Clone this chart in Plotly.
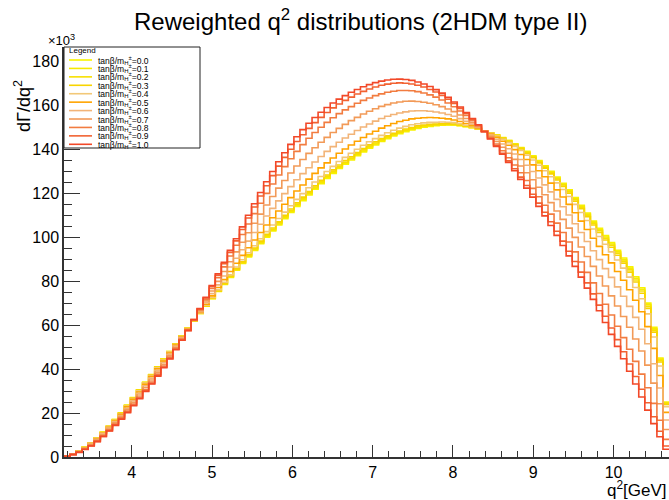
import plotly.graph_objects as go

# ---------------- data ----------------
Q2_MIN, Q2_MAX, NBINS = 3.157, 10.69, 100

tanb_labels = ["0.0", "0.1", "0.2", "0.3", "0.4", "0.5", "0.6", "0.7", "0.8", "0.9", "1.0"]

tb_00 = [0.4,1.5,2.8,4.4,6.4,8.7,11.2,14,17,20,
         23.5,27,30.5,34,37.5,41,44.5,48,51.5,55,
         58.5,62,65.3,68.6,72,75.3,78.5,81.7,85,88,
         91,94,97,100,102.8,105.6,108.4,111.2,114,116.6,
         119.2,121.8,124.3,126.7,129,131.2,133.2,135.1,137,138.8,
         140.5,142,143.5,144.8,146,147.1,148,148.8,149.5,150,
         150.4,150.7,150.9,151,151,150.7,150.3,149.8,149.2,148.4,
         147.5,146.5,145.3,144,142.5,140.8,139,137,134.8,132.5,
         130,127.3,124.5,121.5,118,114.5,111,107.3,104,100.7,
         97.5,94,90.5,86.5,82,77,70,59,45,25]
tb_01 = [0.4,1.5,2.8,4.4,6.4,8.7,11.2,14.0,17.0,20.0,
         23.5,26.9,30.4,33.9,37.4,40.9,44.4,48.0,51.5,55.0,
         58.5,62.0,65.3,68.7,72.1,75.4,78.7,81.9,85.2,88.3,
         91.3,94.3,97.3,100.4,103.2,106.0,108.9,111.7,114.5,117.1,
         119.7,122.3,124.8,127.2,129.5,131.7,133.7,135.6,137.5,139.2,
         140.9,142.4,143.9,145.2,146.4,147.5,148.4,149.1,149.8,150.3,
         150.7,151.0,151.1,151.2,151.2,150.8,150.4,149.9,149.2,148.4,
         147.5,146.4,145.2,143.9,142.3,140.6,138.7,136.7,134.5,132.2,
         129.6,126.9,124.1,121.1,117.5,114.0,110.5,106.8,103.4,100.1,
         96.9,93.3,89.8,85.8,81.3,76.3,69.3,58.3,44.5,24.7]
tb_02 = [0.4,1.5,2.8,4.4,6.4,8.6,11.1,13.9,16.9,19.9,
         23.4,26.9,30.4,33.9,37.4,40.9,44.4,47.9,51.4,54.9,
         58.5,62.0,65.4,68.7,72.2,75.5,78.8,82.1,85.4,88.5,
         91.6,94.6,97.7,100.8,103.6,106.5,109.3,112.1,115.0,117.6,
         120.2,122.8,125.3,127.7,130.0,132.1,134.1,136.0,137.9,139.7,
         141.4,142.8,144.3,145.6,146.8,147.8,148.7,149.5,150.1,150.6,
         150.9,151.2,151.3,151.4,151.3,151.0,150.5,149.9,149.3,148.4,
         147.4,146.3,145.1,143.7,142.1,140.4,138.5,136.4,134.2,131.8,
         129.3,126.5,123.7,120.6,117.1,113.5,110.0,106.2,102.9,99.5,
         96.3,92.7,89.1,85.1,80.5,75.5,68.5,57.7,43.9,24.4]
tb_03 = [0.4,1.5,2.8,4.4,6.3,8.6,11.1,13.9,16.9,19.9,
         23.3,26.8,30.3,33.8,37.3,40.8,44.3,47.8,51.4,54.9,
         58.5,62.0,65.4,68.8,72.3,75.7,79.0,82.3,85.7,88.8,
         92.0,95.1,98.2,101.3,104.2,107.0,109.9,112.8,115.6,118.2,
         120.8,123.4,125.9,128.3,130.6,132.8,134.8,136.6,138.5,140.3,
         142.0,143.4,144.9,146.1,147.3,148.3,149.2,149.9,150.6,151.0,
         151.3,151.5,151.6,151.6,151.5,151.1,150.6,150.0,149.3,148.4,
         147.4,146.2,144.9,143.5,141.9,140.1,138.2,136.1,133.8,131.4,
         128.8,126.0,123.1,120.0,116.4,112.9,109.3,105.5,102.1,98.7,
         95.4,91.8,88.2,84.1,79.6,74.5,67.6,56.8,43.2,23.9]
tb_04 = [0.4,1.5,2.7,4.3,6.3,8.5,11.0,13.8,16.7,19.7,
         23.2,26.6,30.1,33.6,37.1,40.6,44.1,47.7,51.2,54.8,
         58.4,62.1,65.5,69.0,72.6,76.1,79.5,82.9,86.4,89.7,
         92.9,96.1,99.3,102.5,105.5,108.5,111.4,114.3,117.2,119.8,
         122.5,125.1,127.6,129.9,132.2,134.4,136.3,138.2,140.0,141.8,
         143.4,144.8,146.3,147.5,148.6,149.6,150.4,151.1,151.6,152.0,
         152.2,152.3,152.4,152.3,152.1,151.6,150.9,150.2,149.4,148.4,
         147.2,146.0,144.5,143.0,141.3,139.4,137.3,135.1,132.7,130.2,
         127.5,124.7,121.7,118.5,114.9,111.2,107.6,103.7,100.3,96.8,
         93.3,89.6,85.9,81.8,77.1,72.0,65.1,54.6,41.4,22.9]
tb_05 = [0.4,1.4,2.6,4.2,6.1,8.3,10.8,13.5,16.4,19.4,
         22.8,26.2,29.6,33.1,36.6,40.1,43.6,47.3,50.9,54.6,
         58.3,62.1,65.8,69.5,73.3,77.1,80.7,84.4,88.1,91.7,
         95.2,98.7,102.1,105.5,108.8,111.9,115.0,118.0,121.0,123.7,
         126.4,129.0,131.5,133.8,136.0,138.2,140.1,141.9,143.6,145.3,
         146.9,148.2,149.6,150.7,151.7,152.6,153.2,153.8,154.1,154.3,
         154.4,154.3,154.1,153.8,153.3,152.6,151.7,150.7,149.6,148.3,
         146.9,145.4,143.6,141.8,139.8,137.6,135.3,132.9,130.2,127.5,
         124.6,121.5,118.3,114.9,111.1,107.3,103.5,99.5,95.8,92.0,
         88.3,84.4,80.4,76.1,71.3,66.1,59.3,49.4,37.1,20.3]
tb_06 = [0.4,1.4,2.5,4.0,5.9,8.1,10.5,13.2,16.0,18.9,
         22.2,25.6,29.0,32.4,35.9,39.4,43.0,46.7,50.5,54.3,
         58.1,62.2,66.1,70.2,74.3,78.3,82.3,86.4,90.4,94.3,
         98.2,102.1,105.9,109.6,113.1,116.5,119.8,123.0,126.1,128.9,
         131.6,134.2,136.7,139.0,141.2,143.2,145.1,146.8,148.5,150.1,
         151.5,152.8,154.0,155.0,155.8,156.5,157.0,157.4,157.5,157.5,
         157.3,156.9,156.5,155.8,155.0,153.9,152.7,151.4,149.9,148.2,
         146.4,144.5,142.4,140.2,137.8,135.3,132.7,129.9,126.9,123.8,
         120.6,117.2,113.8,110.1,106.1,102.1,98.0,93.8,89.8,85.7,
         81.7,77.4,73.1,68.5,63.5,58.1,51.5,42.4,31.4,16.8]
tb_07 = [0.3,1.3,2.4,3.8,5.6,7.7,10.1,12.7,15.5,18.4,
         21.6,24.9,28.2,31.6,35.0,38.6,42.2,46.0,49.9,53.9,
         57.9,62.3,66.6,71.0,75.5,79.9,84.4,88.8,93.3,97.7,
         102.0,106.3,110.5,114.6,118.5,122.3,125.8,129.2,132.4,135.3,
         138.1,140.7,143.2,145.4,147.6,149.5,151.3,153.0,154.5,156.0,
         157.3,158.4,159.5,160.3,161.0,161.5,161.8,161.9,161.7,161.4,
         160.9,160.2,159.4,158.3,157.1,155.6,154.0,152.2,150.3,148.2,
         145.9,143.5,140.9,138.2,135.4,132.4,129.3,126.1,122.7,119.3,
         115.7,111.9,108.1,104.1,99.9,95.5,91.2,86.7,82.3,77.8,
         73.3,68.7,63.9,59.0,53.7,48.2,41.8,33.6,24.2,12.5]
tb_08 = [0.3,1.2,2.3,3.6,5.3,7.4,9.7,12.3,15.0,17.8,
         20.9,24.1,27.3,30.7,34.1,37.7,41.4,45.3,49.4,53.5,
         57.7,62.4,67.0,71.8,76.7,81.6,86.5,91.4,96.3,101.2,
         106.0,110.7,115.4,119.9,124.2,128.3,132.1,135.7,139.0,142.1,
         145.0,147.6,150.0,152.2,154.3,156.2,157.9,159.4,160.9,162.2,
         163.3,164.4,165.2,165.9,166.4,166.7,166.7,166.6,166.2,165.6,
         164.7,163.7,162.4,161.0,159.3,157.4,155.4,153.1,150.7,148.1,
         145.3,142.4,139.3,136.1,132.8,129.3,125.8,122.2,118.4,114.5,
         110.5,106.4,102.1,97.8,93.3,88.7,84.0,79.2,74.4,69.5,
         64.6,59.5,54.3,49.0,43.5,37.7,31.5,24.4,16.7,8.0]
tb_09 = [0.3,1.1,2.2,3.5,5.1,7.1,9.4,12.0,14.6,17.4,
         20.4,23.6,26.8,30.1,33.5,37.1,40.9,44.8,49.0,53.2,
         57.6,62.5,67.4,72.4,77.6,82.7,87.9,93.1,98.3,103.5,
         108.7,113.7,118.7,123.4,128.0,132.3,136.3,140.0,143.5,146.6,
         149.5,152.1,154.5,156.7,158.8,160.6,162.2,163.7,165.1,166.3,
         167.4,168.3,169.1,169.6,170.0,170.2,170.0,169.7,169.1,168.3,
         167.2,166.0,164.5,162.7,160.8,158.6,156.3,153.7,151.0,148.0,
         144.9,141.7,138.2,134.7,131.1,127.3,123.5,119.5,115.5,111.3,
         107.0,102.7,98.2,93.6,88.9,84.1,79.2,74.2,69.1,64.0,
         58.7,53.4,47.9,42.3,36.6,30.8,24.7,18.3,11.7,5.0]
tb_10 = [0.3,1.1,2.1,3.4,5,7,9.3,11.8,14.4,17.2,
         20.2,23.3,26.5,29.8,33.2,36.8,40.6,44.6,48.8,53.1,
         57.5,62.5,67.5,72.7,78,83.3,88.6,94,99.3,104.7,
         110,115.2,120.3,125.2,129.9,134.3,138.4,142.2,145.7,148.9,
         151.8,154.4,156.8,159,161,162.8,164.4,165.9,167.2,168.4,
         169.4,170.3,171,171.5,171.8,171.9,171.7,171.3,170.6,169.7,
         168.5,167.1,165.5,163.6,161.5,159.2,156.7,154,151.1,148,
         144.7,141.3,137.7,134,130.2,126.3,122.3,118.2,114,109.7,
         105.3,100.8,96.2,91.5,86.7,81.8,76.8,71.7,66.5,61.2,
         55.8,50.3,44.7,39,33.2,27.3,21.3,15.2,9.2,3.5]

series = [tb_00, tb_01, tb_02, tb_03, tb_04, tb_05, tb_06, tb_07, tb_08, tb_09, tb_10]

colors = ["#f8f400", "#f6ea00", "#f8e000", "#f8d400", "#f2c878", "#ffa400",
          "#f2b478", "#f29a58", "#f27c40", "#f26232", "#f24828"]

# ---------------- geometry ----------------
W, H = 669, 500
L, R, T, B = 64, 0, 47, 43
PW, PH = W - L - R, H - T - B


def px(x):
    return (x - L) / PW


def py(y):
    return (H - B - y) / PH


bw = (Q2_MAX - Q2_MIN) / NBINS
edges = [Q2_MIN + k * bw for k in range(NBINS + 1)]

fig = go.Figure()
for vals, col, lab in zip(series, colors, tanb_labels):
    fig.add_trace(go.Scatter(
        x=edges, y=list(vals) + [vals[-1]], mode="lines",
        line=dict(shape="hv", color=col, width=1.6),
        name=lab, showlegend=False, hoverinfo="skip"))

FONT = "Liberation Sans, Arial, Helvetica, sans-serif"
axis_col = "#333333"

fig.update_layout(
    width=W, height=H, autosize=False,
    margin=dict(l=L, r=R, t=T, b=B, pad=0),
    paper_bgcolor="white", plot_bgcolor="white",
    font=dict(family=FONT, color="black"),
    showlegend=False,
    xaxis=dict(range=[Q2_MIN, Q2_MAX], showgrid=False, zeroline=False,
               showline=True, linecolor=axis_col, linewidth=1.5,
               ticks="inside", ticklen=12, tickwidth=1, tickcolor=axis_col,
               tick0=4, dtick=1, tickfont=dict(size=16, family=FONT),
               minor=dict(ticks="inside", ticklen=6, tickwidth=1, tickcolor=axis_col,
                          tick0=4, dtick=0.2, showgrid=False)),
    yaxis=dict(range=[0, 186.5], showgrid=False, zeroline=False,
               showline=True, linecolor=axis_col, linewidth=1.5,
               ticks="inside", ticklen=16, tickwidth=1, tickcolor=axis_col,
               tick0=0, dtick=20, tickfont=dict(size=16, family=FONT),
               minor=dict(ticks="inside", ticklen=8, tickwidth=1, tickcolor=axis_col,
                          tick0=0, dtick=5, showgrid=False)),
)

ann = []
# title
ann.append(dict(x=px(361), y=py(20), xref="paper", yref="paper", showarrow=False,
                text="Reweighted q<sup>2</sup> distributions (2HDM type II)",
                font=dict(size=24, family=FONT), xanchor="center", yanchor="middle"))
# exponent
ann.append(dict(x=px(77), y=py(40), xref="paper", yref="paper", showarrow=False,
                text="×10<sup>3</sup>", font=dict(size=13, family=FONT),
                xanchor="right", yanchor="middle"))
# y title (rotated)
ann.append(dict(x=px(22), y=py(106), xref="paper", yref="paper", showarrow=False,
                text="dΓ/dq<sup>2</sup>", textangle=-90, font=dict(size=18, family=FONT),
                xanchor="center", yanchor="middle"))
# x title
ann.append(dict(x=px(669), y=py(489), xref="paper", yref="paper", showarrow=False,
                text="q<sup>2</sup>[GeV]", font=dict(size=17, family=FONT),
                xanchor="right", yanchor="middle"))

shapes = []
# legend box
shapes.append(dict(type="rect", xref="paper", yref="paper", x0=px(64), x1=px(200),
                   y0=py(148), y1=py(47), fillcolor="white",
                   line=dict(color="#222222", width=1), layer="above"))
ann.append(dict(x=px(67), y=py(50.5), xref="paper", yref="paper", showarrow=False,
                text="Legend", font=dict(size=8, family=FONT),
                xanchor="left", yanchor="middle"))
for k, (col, lab) in enumerate(zip(colors, tanb_labels)):
    yy = 60 + 8.43 * k
    shapes.append(dict(type="line", xref="paper", yref="paper", x0=px(69), x1=px(92),
                       y0=py(yy), y1=py(yy), line=dict(color=col, width=1.6), layer="above"))
    ann.append(dict(x=px(96), y=py(yy), xref="paper", yref="paper", showarrow=False,
                    text="tanβ/m<sub>H</sub><sup>±</sup>=" + lab,
                    font=dict(size=8.5, family=FONT), xanchor="left", yanchor="middle"))

fig.update_layout(annotations=ann, shapes=shapes)

fig.write_html("out.html",
               config={"displayModeBar": False},
               post_script="document.body.style.margin='0';document.body.style.overflow='hidden';")
